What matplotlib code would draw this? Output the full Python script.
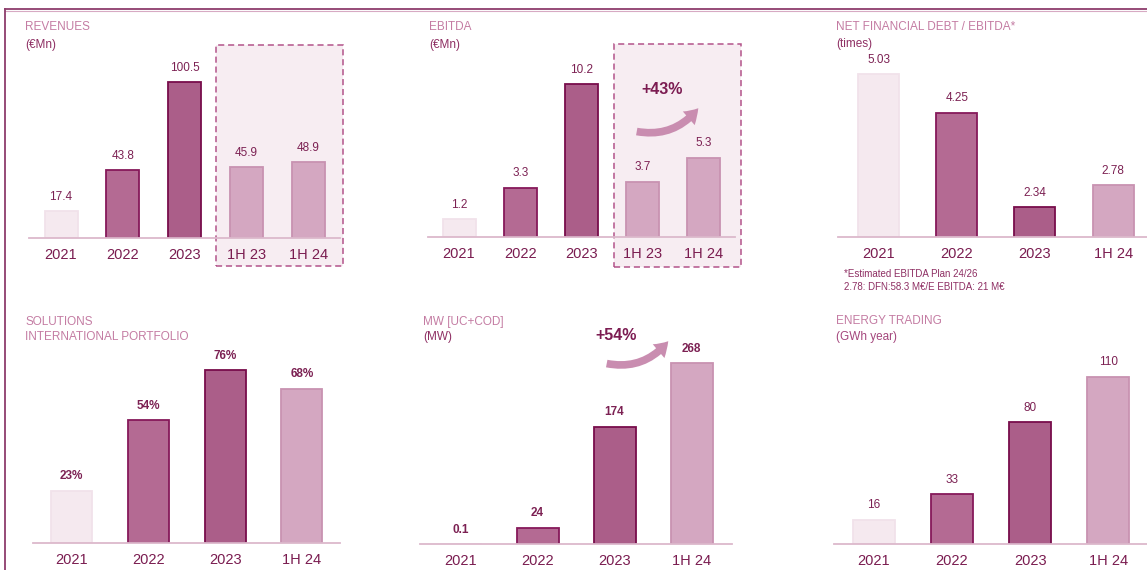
import matplotlib
matplotlib.use('Agg')
import matplotlib.pyplot as plt
from matplotlib.patches import Rectangle, FancyArrowPatch
from matplotlib.lines import Line2D

plt.rcParams['font.family'] = ['Liberation Sans', 'DejaVu Sans']

# ---- data ----
years5 = ['2021', '2022', '2023', '1H 23', '1H 24']
years4 = ['2021', '2022', '2023', '1H 24']

revenues = [17.4, 43.8, 100.5, 45.9, 48.9]
revenue_labels = ['17.4', '43.8', '100.5', '45.9', '48.9']

ebitda = [1.2, 3.3, 10.2, 3.7, 5.3]
ebitda_labels = ['1.2', '3.3', '10.2', '3.7', '5.3']

nfd_ebitda = [5.03, 4.25, 2.34, 2.78]
nfd_labels = ['5.03', '4.25', '2.34', '2.78']

intl_portfolio = [23, 54, 76, 68]
intl_labels = ['23%', '54%', '76%', '68%']

mw = [0.1, 24, 174, 268]
mw_labels = ['0.1', '24', '174', '268']

energy_trading = [16, 33, 80, 110]
energy_labels = ['16', '33', '80', '110']

# ---- styling ----
W, H = 1147, 570
LIGHT = ('#f5e9ef', '#f1e2ea')
MID = ('#b46a93', '#86195a')
DARK = ('#ab5e89', '#780d4b')
PALE = ('#d4a7c1', '#c892b1')
styles5 = [LIGHT, MID, DARK, PALE, PALE]
styles4 = [LIGHT, MID, DARK, PALE]

TITLE_C = '#c47ca3'
SUB_C = '#8e2f63'
VAL_C = '#7c2153'
TICK_C = '#7a1c50'
BASE_C = '#dcb9cc'

fig = plt.figure(figsize=(W / 100, H / 100), dpi=100)


def fx(x):
    return x / W


def fy(y):
    return 1 - y / H


def panel(cats, vals, labels, styles, xl, xr, base, c0, sp, width,
          scale, top=40, y0=0.0, bold=False):
    """Bar panel placed in pixel coordinates of the figure."""
    ax = fig.add_axes([fx(xl), fy(base), (xr - xl) / W, (base - top) / H])
    ax.patch.set_visible(False)
    ax.set_xlim((xl - c0) / sp, (xr - c0) / sp)
    ax.set_ylim(y0, y0 + (base - top) / scale)
    pos = list(range(len(vals)))
    for p, v, (fc, ec) in zip(pos, vals, styles):
        ax.bar(p, v, width=width / sp, color=fc, edgecolor=ec,
               linewidth=1.3, zorder=2)
    for p, v, t in zip(pos, vals, labels):
        ax.annotate(t, (p, v), xytext=(0, 6), textcoords='offset points',
                    ha='center', va='bottom', fontsize=8.5, color=VAL_C,
                    fontweight='bold' if bold else 'normal')
    for s in ['top', 'left', 'right']:
        ax.spines[s].set_visible(False)
    ax.spines['bottom'].set_color(BASE_C)
    ax.spines['bottom'].set_linewidth(1.3)
    ax.set_yticks([])
    ax.set_xticks(pos)
    ax.set_xticklabels(cats, fontsize=10.5, color=TICK_C)
    ax.tick_params(axis='x', length=0, pad=7)
    return ax


def title(x, y, text, color, size=8.5):
    fig.text(fx(x), fy(y), text, fontsize=size, color=color,
             ha='left', va='center')


def dashed_box(x0, x1, y0, y1):
    fig.patches.append(Rectangle((fx(x0), fy(y1)), (x1 - x0) / W, (y1 - y0) / H,
                                 transform=fig.transFigure, facecolor='#f7edf2',
                                 edgecolor='#b3548a', linestyle=(0, (4, 2.5)),
                                 linewidth=1.1, zorder=-1))


def growth_arrow(tail, tip, text, tpos):
    fig.patches.append(FancyArrowPatch(
        (fx(tail[0]), fy(tail[1])), (fx(tip[0]), fy(tip[1])),
        transform=fig.transFigure, connectionstyle='arc3,rad=0.32',
        arrowstyle='simple,head_length=10,head_width=13,tail_width=5.5',
        color='#c98db0', lw=0, zorder=3))
    fig.text(fx(tpos[0]), fy(tpos[1]), text, fontsize=11.5, fontweight='bold',
             color='#7c1c52', ha='center', va='center')


# frame
fig.add_artist(Line2D([fx(5), 1], [fy(9), fy(9)], color='#8d3d6c', lw=1.3))
fig.add_artist(Line2D([fx(5), 1], [fy(10.5), fy(10.5)], color='#d7aac3', lw=0.8))
fig.add_artist(Line2D([fx(5), fx(5)], [fy(9), 0], color='#8d3d6c', lw=1.3))

# dashed highlight boxes
dashed_box(216, 343, 45, 266)
dashed_box(614, 741, 44, 267)

# row 1
panel(years5, revenues, revenue_labels, styles5, 29, 340, 238, 61, 61.8, 33, 1.55)
title(25, 27, 'REVENUES', TITLE_C)
title(25, 45, '(€Mn)', SUB_C)

panel(years5, ebitda, ebitda_labels, styles5, 428, 735, 237, 459, 61.2, 33, 15.0)
title(429, 27, 'EBITDA', TITLE_C)
title(429, 45, '(€Mn)', SUB_C)
growth_arrow((634, 131), (700, 106), '+43%', (662, 89))

panel(years4, nfd_ebitda, nfd_labels, styles4, 838, 1147, 237, 878.5, 78.2, 41,
      49.4, y0=1.73)
title(836, 27, 'NET FINANCIAL DEBT / EBITDA*', TITLE_C)
title(836, 44, '(times)', SUB_C)
title(844, 274, '*Estimated EBITDA Plan 24/26', SUB_C, 7)
title(844, 287, '2.78: DFN:58.3 M€/E EBITDA: 21 M€', SUB_C, 7)

# row 2
panel(years4, intl_portfolio, intl_labels, styles4, 33, 340, 543, 71.5, 76.8, 41,
      2.27, top=345, bold=True)
title(25, 322, 'SOLUTIONS', TITLE_C)
title(25, 337, 'INTERNATIONAL PORTFOLIO', TITLE_C)

panel(years4, mw, mw_labels, styles4, 420, 732, 544, 460.5, 77, 42,
      0.675, top=345, bold=True)
title(423, 322, 'MW [UC+COD]', TITLE_C)
title(423, 337, '(MW)', SUB_C)
growth_arrow((604, 363), (670, 339), '+54%', (616, 336))

panel(years4, energy_trading, energy_labels, styles4, 834, 1147, 544, 873.5, 78.3, 42,
      1.52, top=345)
title(836, 321, 'ENERGY TRADING', TITLE_C)
title(836, 337, '(GWh year)', '#a4467c')

fig.savefig('out.png', dpi=100)
